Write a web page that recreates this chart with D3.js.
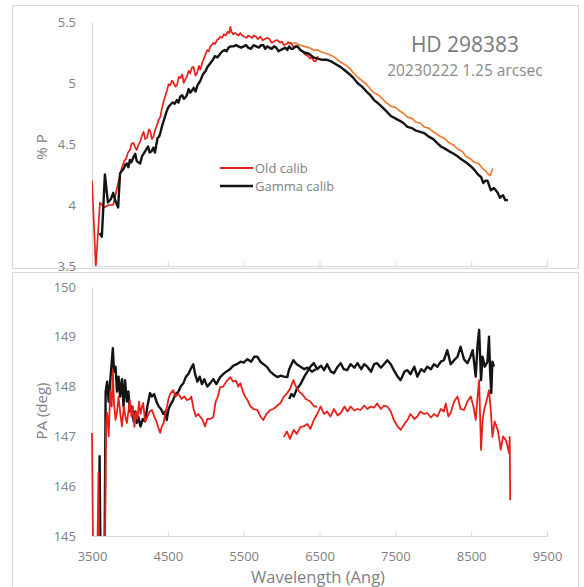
<!DOCTYPE html>
<html><head><meta charset="utf-8">
<script src="https://cdn.jsdelivr.net/npm/d3@7"></script>
<style>html,body{margin:0;padding:0;background:#fff;}svg{display:block;font-family:"Open Sans",sans-serif;}</style>
</head><body>
<script>
// ---------- DATA ----------
const xTicks = [3500,4500,5500,6500,7500,8500,9500];
const pTicks = [3.5,4,4.5,5,5.5];
const paTicks = [145,146,147,148,149,150];
const titleText = "HD 298383";
const subtitleText = "20230222 1.25 arcsec";
const legendNames = ["Old calib","Gamma calib"];

// Top panel: % P
const pOldBlueW = [3500,3550,3605,3660,3720,3780,3845,3895,3925,3950,3975,4000,4020,4045,4070,4090,4110,4135,4160,4180,4200,4225,4250,4270,4290,4310,4335,4355,4380,4400,4425,4445,4470,4490,4510,4530,4555,4575,4600,4620,4645,4665,4690,4710,4730,4750,4775,4795,4820,4840,4865,4885,4910,4930,4955,4975,5000,5020,5040,5060,5080,5100,5125,5145,5170,5190,5215,5240,5265,5290,5310,5325,5340,5360,5385,5410,5435,5455,5480,5510,5535,5560,5585,5610,5635,5660,5690,5720,5750,5780,5810,5840,5870,5900,5925,5950,5980,6005,6030,6060,6090,6120,6150,6180,6210,6240,6270,6300,6325,6350,6375,6400,6425,6450,6480];
const pOldBlue  = [4.2,3.49,4.02,3.98,4.0,4.0,4.18,4.31,4.36,4.38,4.43,4.45,4.5,4.51,4.47,4.45,4.49,4.52,4.57,4.6,4.54,4.55,4.62,4.6,4.54,4.56,4.62,4.65,4.7,4.72,4.8,4.85,4.9,4.94,4.99,4.98,5.02,5.0,4.97,4.98,5.05,5.04,5.07,5.0,5.03,5.05,5.1,5.08,5.13,5.13,5.06,5.08,5.14,5.11,5.17,5.2,5.24,5.27,5.26,5.3,5.31,5.33,5.32,5.35,5.36,5.38,5.37,5.4,5.39,5.42,5.41,5.46,5.42,5.4,5.41,5.4,5.39,5.41,5.39,5.38,5.37,5.39,5.38,5.37,5.39,5.38,5.36,5.38,5.35,5.36,5.37,5.36,5.33,5.34,5.35,5.35,5.33,5.34,5.31,5.32,5.33,5.33,5.3,5.29,5.3,5.27,5.26,5.24,5.23,5.22,5.2,5.21,5.18,5.18,5.22];
const pOldRedW = [6075,6120,6180,6240,6300,6360,6420,6480,6540,6600,6645,6700,6780,6840,6900,6950,7000,7060,7120,7170,7220,7280,7330,7380,7440,7500,7560,7610,7660,7720,7770,7830,7880,7940,8000,8050,8100,8160,8210,8270,8320,8380,8430,8490,8540,8600,8650,8690,8715,8750,8785];
const pOldRed  = [5.34,5.32,5.33,5.31,5.3,5.29,5.27,5.27,5.25,5.24,5.23,5.21,5.17,5.15,5.12,5.08,5.05,5.02,4.99,4.95,4.92,4.9,4.87,4.84,4.81,4.8,4.77,4.75,4.72,4.71,4.68,4.67,4.64,4.63,4.6,4.58,4.56,4.54,4.51,4.49,4.46,4.44,4.4,4.38,4.35,4.34,4.3,4.28,4.26,4.24,4.3];
const pGammaW = [3600,3630,3670,3710,3750,3780,3810,3845,3870,3895,3920,3940,3960,3980,4000,4020,4045,4070,4090,4110,4135,4160,4180,4210,4240,4260,4285,4310,4330,4350,4365,4385,4400,4425,4450,4480,4505,4530,4560,4590,4620,4640,4665,4690,4710,4730,4750,4775,4795,4820,4840,4865,4890,4910,4930,4955,4975,5000,5020,5045,5070,5095,5120,5155,5190,5220,5250,5275,5300,5330,5365,5400,5430,5465,5500,5530,5560,5595,5630,5665,5700,5730,5760,5785,5810,5840,5870,5900,5930,5960,5985,6020,6050,6075,6100,6125,6150,6180,6210,6250,6300,6360,6420,6475,6540,6600,6645,6700,6780,6840,6900,6950,7000,7060,7120,7170,7220,7280,7330,7380,7440,7500,7560,7610,7660,7720,7770,7830,7880,7940,8000,8050,8100,8160,8210,8270,8320,8380,8430,8490,8540,8590,8630,8660,8690,8715,8760,8800,8850,8880,8920,8950,8985];
const pGamma  = [3.77,3.74,4.25,4.02,4.05,4.1,4.03,3.98,4.26,4.28,4.3,4.33,4.34,4.31,4.37,4.35,4.39,4.42,4.36,4.35,4.34,4.4,4.42,4.45,4.48,4.43,4.44,4.47,4.43,4.5,4.55,4.56,4.59,4.65,4.7,4.76,4.8,4.82,4.84,4.83,4.86,4.84,4.89,4.9,4.87,4.88,4.9,4.95,4.92,4.94,4.96,4.93,4.98,5.0,5.02,5.06,5.08,5.1,5.13,5.15,5.17,5.19,5.22,5.21,5.24,5.26,5.27,5.26,5.29,5.3,5.3,5.31,5.3,5.29,5.3,5.31,5.29,5.28,5.31,5.3,5.29,5.31,5.31,5.28,5.3,5.29,5.28,5.3,5.29,5.26,5.27,5.28,5.29,5.27,5.3,5.28,5.28,5.3,5.3,5.27,5.25,5.24,5.21,5.2,5.19,5.19,5.18,5.16,5.13,5.1,5.07,5.04,5.0,4.97,4.93,4.9,4.86,4.83,4.8,4.77,4.73,4.71,4.69,4.67,4.64,4.63,4.61,4.6,4.59,4.56,4.54,4.51,4.48,4.46,4.44,4.42,4.4,4.37,4.35,4.32,4.29,4.25,4.23,4.18,4.2,4.2,4.12,4.14,4.1,4.06,4.08,4.04,4.04];

// Bottom panel: PA (deg)
const paOld1W = [3500,3515,3570,3585,3598,3670,3685,3700,3720,3740,3760,3775,3790,3810,3830,3850,3870,3895,3920,3940,3960,3980,4000,4020,4040,4060,4080,4100,4120,4140,4160,4175,4200,4230,4260,4290,4320,4350,4380,4400,4420,4445,4470,4490,4505,4530,4570,4600,4640,4680,4720,4750,4790,4810,4840,4870,4900,4930,4960,4990,5020,5060,5100,5130,5160,5190,5230,5270,5300,5325,5360,5400,5430,5455,5490,5520,5550,5590,5630,5680,5720,5760,5800,5850,5890,5930,5985,6030,6075,6110,6155,6190,6230,6270,6320,6380,6430,6470];
const paOld1  = [147.07,144.5,144.5,146.27,144.5,144.5,147.27,147.47,147.0,147.9,147.6,148.33,147.67,147.33,147.5,147.8,147.5,147.2,147.6,147.4,147.27,147.5,147.73,147.4,147.6,147.19,147.5,147.35,147.7,147.45,147.6,147.67,147.3,147.39,147.5,147.53,147.4,147.3,147.15,147.07,147.2,147.27,147.5,147.6,147.73,147.85,147.93,147.8,147.85,147.75,147.8,147.73,147.75,147.8,147.55,147.4,147.45,147.39,147.33,147.2,147.35,147.35,147.39,147.7,147.8,147.99,148.0,148.1,148.15,148.19,148.1,148.12,148.0,148.07,147.9,147.8,147.73,147.6,147.55,147.53,147.4,147.33,147.45,147.53,147.55,147.6,147.67,147.8,147.87,147.95,148.13,148.0,147.9,147.85,147.75,147.7,147.6,147.6];
const paOld2W = [6030,6070,6110,6160,6200,6250,6290,6340,6380,6425,6470,6515,6560,6600,6645,6690,6740,6780,6830,6870,6910,6960,7000,7040,7090,7130,7175,7220,7260,7310,7350,7395,7440,7480,7530,7570,7620,7660,7700,7750,7790,7830,7880,7920,7970,8010,8055,8100,8140,8165,8200,8230,8275,8320,8360,8405,8450,8495,8530,8560,8590,8605,8630,8650,8670,8700,8735,8760,8780,8810,8850,8870,8890,8920,8955,8980,9000,9008,9015];
const paOld2  = [146.99,147.1,146.95,147.13,147.05,147.19,147.2,147.25,147.15,147.33,147.45,147.6,147.45,147.5,147.4,147.55,147.42,147.47,147.6,147.5,147.6,147.52,147.55,147.53,147.62,147.55,147.6,147.58,147.66,147.55,147.62,147.6,147.5,147.33,147.2,147.13,147.25,147.33,147.45,147.35,147.4,147.5,147.45,147.47,147.38,147.45,147.4,147.55,147.5,147.66,147.4,147.47,147.7,147.8,147.55,147.53,147.7,147.8,147.6,147.33,147.9,148.13,146.73,147.3,147.53,147.7,147.93,147.5,146.99,147.3,147.13,146.95,146.73,147.0,146.93,146.8,146.66,146.99,145.72];
const paGamma1W = [3590,3600,3612,3665,3680,3700,3720,3745,3775,3790,3810,3830,3850,3870,3895,3915,3935,3960,3980,4000,4020,4050,4070,4090,4110,4140,4170,4200,4230,4265,4290,4320,4350,4380,4410,4440,4465,4485,4510,4540,4570,4600,4640,4670,4705,4740,4770,4800,4835,4860,4890,4920,4950,4980,5020,5060,5100,5140,5190,5230,5270,5320,5365,5410,5460,5500,5550,5600,5640,5680,5720,5760,5810,5850,5890,5945,5990,6030,6075,6100,6155,6200,6250,6300,6340,6400,6450];
const paGamma1  = [144.5,146.6,144.5,144.5,147.9,148.1,147.7,148.2,148.77,148.3,148.4,147.9,148.2,147.8,148.15,147.6,148.13,147.7,147.9,147.5,147.6,147.3,147.5,147.27,147.4,147.2,147.35,147.3,147.6,147.87,147.8,147.85,147.7,147.6,147.55,147.45,147.5,147.33,147.55,147.65,147.73,147.85,147.9,148.0,148.07,148.2,148.25,148.35,148.45,148.25,148.1,148.2,148.05,148.15,148.0,148.07,148.15,148.05,148.19,148.25,148.3,148.35,148.42,148.45,148.5,148.48,148.55,148.5,148.6,148.6,148.5,148.45,148.39,148.3,148.25,148.19,148.22,148.2,148.19,148.35,148.53,148.45,148.4,148.35,148.38,148.3,148.35];
const paGamma2W = [6100,6130,6160,6200,6250,6300,6340,6380,6425,6470,6520,6560,6600,6650,6690,6740,6780,6820,6865,6910,6960,7000,7050,7090,7130,7180,7220,7260,7310,7350,7395,7440,7480,7530,7570,7620,7660,7700,7750,7790,7840,7880,7920,7970,8010,8055,8100,8140,8185,8230,8275,8320,8360,8405,8450,8490,8520,8560,8585,8605,8630,8650,8680,8715,8735,8750,8765,8780,8800];
const paGamma2  = [147.75,147.85,147.8,147.95,148.05,148.2,148.3,148.4,148.47,148.35,148.42,148.33,148.45,148.3,148.27,148.4,148.47,148.35,148.33,148.45,148.38,148.47,148.35,148.45,148.4,148.3,148.45,148.47,148.38,148.45,148.53,148.45,148.33,148.2,148.13,148.3,148.33,148.25,148.4,148.2,148.35,148.3,148.4,148.35,148.45,148.4,148.5,148.53,148.73,148.45,148.53,148.6,148.8,148.55,148.47,148.6,148.73,148.2,148.85,149.14,148.13,148.6,148.4,148.5,149.0,148.3,147.87,148.5,148.4];

// ---------- DRAW ----------
const W = 584, H = 587;
const svg = d3.select("body").append("svg").attr("width", W).attr("height", H);
const grey = "#d9d9d9", txt = "#808080";
const cRed = "#e8201a", cBlack = "#141414", cOrange = "#ee7d31";

const x = d3.scaleLinear().domain([3500, 9500]).range([92, 547]);
const yP = d3.scaleLinear().domain([3.5, 5.5]).range([266, 22]);
const yPA = d3.scaleLinear().domain([145, 150]).range([536, 287]);

// frames
svg.append("rect").attr("x", 12.5).attr("y", 5.5).attr("width", 566).attr("height", 263)
  .attr("fill", "none").attr("stroke", grey);
svg.append("rect").attr("x", 12.5).attr("y", 272.5).attr("width", 566).attr("height", 330)
  .attr("fill", "none").attr("stroke", grey);

const defs = svg.append("defs");
defs.append("clipPath").attr("id", "clipTop").append("rect")
  .attr("x", 92).attr("y", yP(5.5) - 2).attr("width", 456).attr("height", yP(3.5) - yP(5.5) + 2);
defs.append("clipPath").attr("id", "clipBot").append("rect")
  .attr("x", 90).attr("y", yPA(150) - 2).attr("width", 458).attr("height", yPA(145) - yPA(150) + 2);

function panelAxes(yScale, ticks, fmt, showXLabels) {
  const y0 = yScale.range()[0];
  const xa = svg.append("g").attr("transform", `translate(0,${y0})`)
    .call(d3.axisBottom(x).tickValues(xTicks).tickSizeInner(-5).tickSizeOuter(0)
      .tickFormat(showXLabels ? d3.format("d") : () => ""));
  xa.select(".domain").attr("stroke", grey);
  xa.selectAll(".tick line").attr("stroke", grey).attr("y2", -5).attr("y1", 1)
    .filter(d => d === 3500).remove();
  xa.selectAll(".tick text").attr("fill", txt).attr("font-size", 13)
    .attr("font-family", "Open Sans").attr("dy", 0).attr("y", 25);
  const ya = svg.append("g").attr("transform", "translate(92,0)")
    .call(d3.axisLeft(yScale).tickValues(ticks).tickSize(0).tickPadding(16).tickFormat(fmt));
  ya.select(".domain").attr("stroke", grey);
  ya.selectAll(".tick text").attr("fill", txt).attr("font-size", 13).attr("font-family", "Open Sans");
}
panelAxes(yP, pTicks, d3.format(""), false);
panelAxes(yPA, paTicks, d3.format("d"), true);

function zip(ws, vs) { return ws.map((w, i) => [w, vs[i]]); }
function drawLine(clip, yScale, ws, vs, color, width) {
  svg.append("path").attr("clip-path", `url(#${clip})`)
    .datum(zip(ws, vs))
    .attr("d", d3.line().x(d => x(d[0])).y(d => yScale(d[1])))
    .attr("fill", "none").attr("stroke", color).attr("stroke-width", width)
    .attr("stroke-linejoin", "round");
}
drawLine("clipTop", yP, pOldRedW, pOldRed, cOrange, 1.7);
drawLine("clipTop", yP, pOldBlueW, pOldBlue, cRed, 1.7);
drawLine("clipTop", yP, pGammaW, pGamma, cBlack, 2.4);
drawLine("clipBot", yPA, paGamma1W, paGamma1, cBlack, 2.4);
drawLine("clipBot", yPA, paGamma2W, paGamma2, cBlack, 2.4);
drawLine("clipBot", yPA, paOld1W, paOld1, cRed, 1.8);
drawLine("clipBot", yPA, paOld2W, paOld2, cRed, 1.8);

svg.append("text").attr("x", 465).attr("y", 52).attr("text-anchor", "middle")
  .attr("fill", "#7a7a7a").attr("font-size", 21).text(titleText);
svg.append("text").attr("x", 465).attr("y", 76).attr("text-anchor", "middle")
  .attr("fill", "#8a8a8a").attr("font-size", 15.5).text(subtitleText);

svg.append("text").attr("transform", "translate(47,147) rotate(-90)").attr("text-anchor", "middle")
  .attr("fill", txt).attr("font-size", 15).text("% P");
svg.append("text").attr("transform", "translate(47,411) rotate(-90)").attr("text-anchor", "middle")
  .attr("fill", txt).attr("font-size", 15).text("PA (deg)");
svg.append("text").attr("x", 318).attr("y", 583).attr("text-anchor", "middle")
  .attr("fill", txt).attr("font-size", 16.5).text("Wavelength (Ang)");

const legColors = [cRed, cBlack], legY = [168, 186], legW = [1.8, 2.4];
legendNames.forEach((n, i) => {
  svg.append("line").attr("x1", 220).attr("x2", 253).attr("y1", legY[i]).attr("y2", legY[i])
    .attr("stroke", legColors[i]).attr("stroke-width", legW[i]);
  svg.append("text").attr("x", 255).attr("y", legY[i] + 4.5).attr("fill", txt)
    .attr("font-size", 13).text(n);
});
</script>
</body></html>
